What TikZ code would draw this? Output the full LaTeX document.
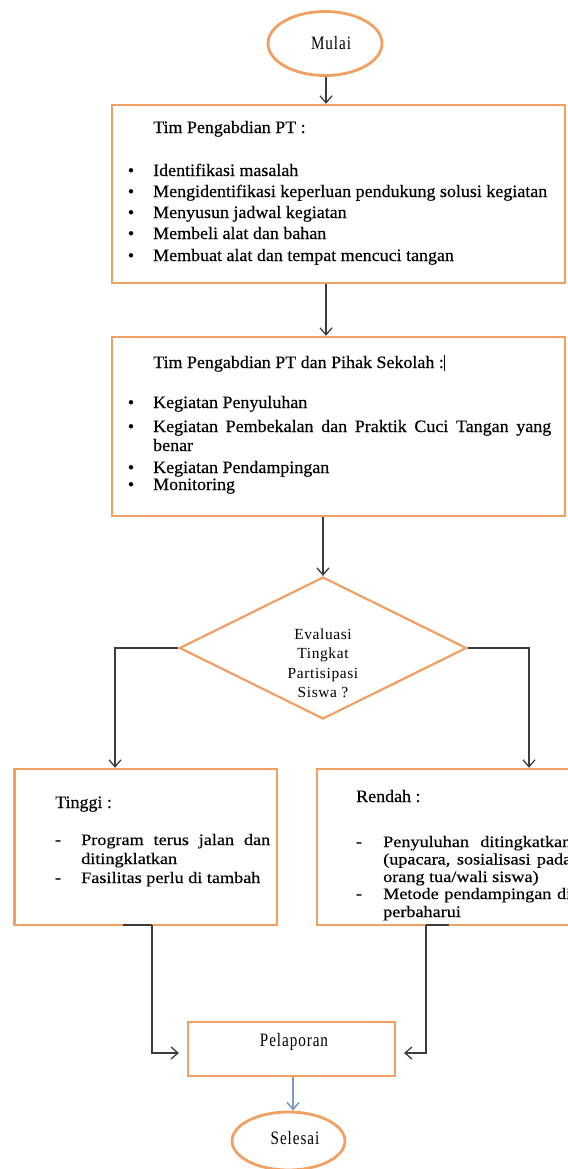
\documentclass[tikz,border=0pt]{standalone}
\usepackage{fontspec}
\setmainfont{Liberation Serif}
\newfontfamily\bodyfont[FakeStretch=1.03,FakeBold=0.35]{Liberation Serif}
\newfontfamily\widebodyfont[FakeStretch=1.14,FakeBold=0.35]{Liberation Serif}
\newfontfamily\ttlfont[FakeStretch=0.8,LetterSpace=5]{Liberation Serif}
\newfontfamily\diafont[LetterSpace=4]{Liberation Serif}
\usetikzlibrary{arrows.meta,shapes.geometric}
\definecolor{borange}{HTML}{F0A062}
\definecolor{lgray}{HTML}{3C3C3C}
\definecolor{lblue}{HTML}{7C9CC8}
\tikzset{
  box/.style={draw=borange, line width=2.4bp, rectangle, inner sep=0pt},
  term/.style={draw=borange, line width=2.8bp, ellipse, inner sep=0pt},
  dia/.style={draw=borange, line width=2.2bp, diamond, inner sep=0pt},
  conn/.style={draw=lgray, line width=1.3bp, -{Straight Barb[length=7bp,width=12bp]}},
  plainline/.style={draw=lgray, line width=1.3bp},
  bluearrow/.style={draw=lblue, line width=1.6bp, -{Straight Barb[length=7bp,width=12bp]}},
  txt/.style={anchor=base west, inner sep=0pt, font=\bodyfont\fontsize{17.5}{20}\selectfont},
  stxt/.style={anchor=base west, inner sep=0pt, font=\widebodyfont\fontsize{16}{17}\selectfont},
  bul/.style={anchor=base, inner sep=0pt, font=\bodyfont\fontsize{17.5}{20}\selectfont},
  ttl/.style={anchor=base, inner sep=0pt, font=\ttlfont\fontsize{19}{21}\selectfont},
  dtxt/.style={anchor=base, inner sep=0pt, font=\diafont\fontsize{15.5}{17}\selectfont}
}
\begin{document}
\begin{tikzpicture}[x=1bp,y=-1bp]
\useasboundingbox (0,0) rectangle (568,1169);
% terminals and boxes
\node[term, minimum width=114bp, minimum height=64bp] (mulai) at (325,43.5) {};
\node[ttl] (mulaiT) at (331,49) {Mulai};
\node[box, minimum width=453bp, minimum height=178bp] (box1) at (338.5,194) {};
\node[box, minimum width=453bp, minimum height=179bp] (box2) at (338.5,426.5) {};
\node[dia, minimum width=287bp, minimum height=142bp] (dia) at (323,648) {};
\node[box, minimum width=262.5bp, minimum height=156bp] (tinggi) at (145.75,847) {};
\node[box, minimum width=283bp, minimum height=156bp] (rendah) at (458.5,847) {};
\node[box, minimum width=207bp, minimum height=54bp] (pel) at (291.5,1049) {};
\node[term, minimum width=113bp, minimum height=58bp] (selesai) at (288.5,1141) {};
% box1 text
\node[txt] (b1t) at (153,133) {Tim Pengabdian PT :};
\node[bul] (b1b1) at (131,176) {\textbullet};
\node[txt] (b1i1) at (153,176) {Identifikasi masalah};
\node[bul] (b1b2) at (131,197) {\textbullet};
\node[txt] (b1i2) at (153,197) {Mengidentifikasi keperluan pendukung solusi kegiatan};
\node[bul] (b1b3) at (131,218) {\textbullet};
\node[txt] (b1i3) at (153,218) {Menyusun jadwal kegiatan};
\node[bul] (b1b4) at (131,239) {\textbullet};
\node[txt] (b1i4) at (153,239) {Membeli alat dan bahan};
\node[bul] (b1b5) at (131,261) {\textbullet};
\node[txt] (b1i5) at (153,261) {Membuat alat dan tempat mencuci tangan};
% box2 text
\node[txt] (b2t) at (153,368) {Tim Pengabdian PT dan Pihak Sekolah :\rule[-3bp]{0.7bp}{16bp}};
\node[bul] (b2b1) at (131,408) {\textbullet};
\node[txt] (b2i1) at (153,408) {Kegiatan Penyuluhan};
\node[bul] (b2b2) at (131,432) {\textbullet};
\node[txt] (b2i2) at (153,432) {\makebox[398bp][s]{Kegiatan Pembekalan dan Praktik Cuci Tangan yang}};
\node[txt] (b2i2b) at (153,451) {benar};
\node[bul] (b2b3) at (131,473) {\textbullet};
\node[txt] (b2i3) at (153,473) {Kegiatan Pendampingan};
\node[bul] (b2b4) at (131,490) {\textbullet};
\node[txt] (b2i4) at (153,490) {Monitoring};
% diamond text
\node[dtxt] (d1) at (323,639) {Evaluasi};
\node[dtxt] (d2) at (323,658) {Tingkat};
\node[dtxt] (d3) at (323,678) {Partisipasi};
\node[dtxt] (d4) at (323,697) {Siswa ?};
% tinggi text
\node[txt] (tt) at (55,808) {Tinggi :};
\node[bul] (td1) at (58,845) {-};
\node[stxt] (ti1) at (81,845) {\makebox[189bp][s]{Program terus jalan dan}};
\node[stxt] (ti1b) at (81,864) {ditingklatkan};
\node[bul] (td2) at (58,883) {-};
\node[stxt] (ti2) at (81,883) {Fasilitas perlu di tambah};
% rendah text
\node[txt] (rt) at (356,802) {Rendah :};
\node[bul] (rd1) at (359,847) {-};
\node[stxt] (ri1) at (383,847) {\makebox[188bp][s]{Penyuluhan ditingkatkan}};
\node[stxt] (ri1b) at (383,864.5) {\makebox[188bp][s]{(upacara, sosialisasi pada}};
\node[stxt] (ri1c) at (383,882) {orang tua/wali siswa)};
\node[bul] (rd2) at (359,899) {-};
\node[stxt] (ri2) at (383,899) {\makebox[188bp][s]{Metode pendampingan di}};
\node[stxt] (ri2b) at (383,917) {perbaharui};
% end texts
\node[ttl] (pelT) at (294,1046) {Pelaporan};
\node[ttl] (selT) at (295,1144) {Selesai};
% helper coordinates
\coordinate (lcol) at (115,648);
\coordinate (rcol) at (529,648);
\coordinate (lstubA) at (123,925);
\coordinate (lstubB) at (152,925);
\coordinate (rstubA) at (426,925);
\coordinate (rstubB) at (449,925);
\coordinate (lin) at (179,1053);
\coordinate (rin) at (404,1053);
\coordinate (bx) at (326,0);
% connectors
\draw[conn] (mulai.south -| bx) -- (box1.north -| bx);
\draw[conn] (box1.south -| bx) -- (box2.north -| bx);
\draw[conn] (box2.south -| dia.north) -- (dia.north);
\draw[conn] (dia.west) -- (lcol) -- (lcol |- tinggi.north);
\draw[conn] (dia.east) -- (rcol) -- (rcol |- rendah.north);
\draw[plainline] (lstubA) -- (lstubB);
\draw[conn] (lstubB) -- (lstubB |- lin) -- (lin);
\draw[plainline] (rstubA) -- (rstubB);
\draw[conn] (rstubA) -- (rstubA |- rin) -- (rin);
\draw[bluearrow] (pel.south -| 293,0) -- (selesai.north -| 293,0);
\end{tikzpicture}
\end{document}
